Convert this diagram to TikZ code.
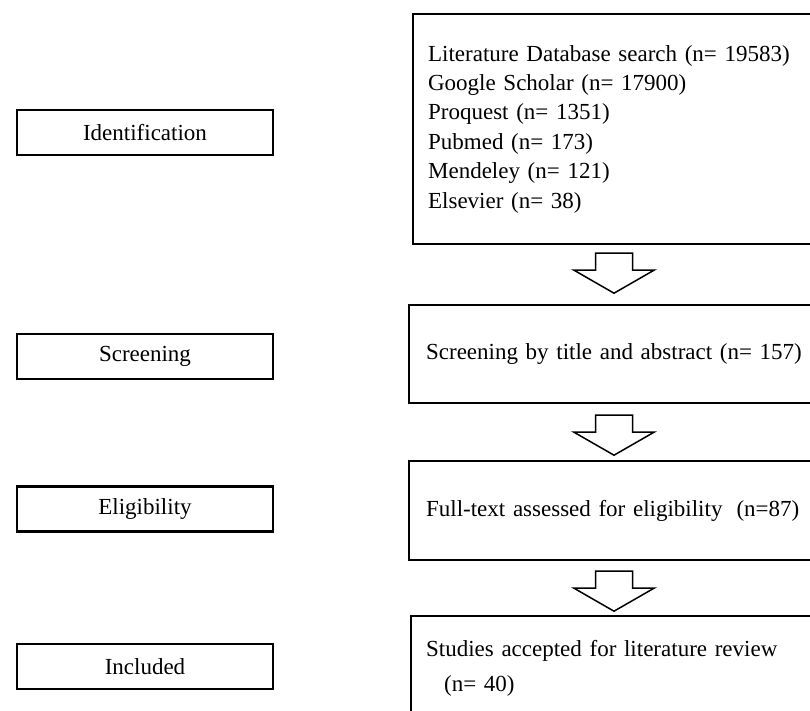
\documentclass[tikz,border=0pt]{standalone}
\usepackage{fontspec}
\setmainfont{Liberation Serif}
\usepackage{tikz}
\usetikzlibrary{calc}

\tikzset{
  stagebox/.style={draw, line width=2.4pt, minimum width=256pt, minimum height=45pt, inner sep=0pt},
  textbox/.style={draw, line width=2.2pt, anchor=north west, text width=400pt, align=left, inner xsep=15pt, inner ysep=0pt},
  arrowline/.style={draw, line width=1.5pt, line join=miter}
}
\newcommand{\hollowarrow}[1]{\draw[arrowline] (#1) -- ++(-18.5,0) -- ++(0,17) -- ++(-21.5,0) -- ++(40,23) -- ++(40,-23) -- ++(-21.5,0) -- ++(0,-17) -- cycle;}

\begin{document}
\begin{tikzpicture}[x=1pt, y=-1pt, font=\fontsize{23}{29.4}\selectfont]
\clip (0,0) rectangle (810,711);
\fill[white] (0,0) rectangle (810,711);
% stages on the left
\node[stagebox] (stageid) at (145,132.5) {Identification};
\node[stagebox] (stagescr) at (145,356.5) {Screening};
\node[stagebox] (stageelig) at (145,509) {Eligibility};
\node[stagebox] (stageinc) at (145,666.5) {Included};
% boxes on the right
\node[textbox, minimum height=230pt] (boxid) at (412,13) {Literature Database search (n= 19583)\\
Google Scholar (n= 17900)\\
Proquest (n= 1351)\\
Pubmed (n= 173)\\
Mendeley (n= 121)\\
Elsevier (n= 38)};
\node[textbox, inner xsep=17pt, minimum height=98pt] (boxscr) at (408,304) {Screening by title and abstract (n= 157)};
\node[textbox, inner xsep=17pt, minimum height=99pt] (boxelig) at (408,460) {Full-text assessed for eligibility\hspace{14pt}(n=87)};
\node[textbox, minimum height=104pt] (boxinc) at (410,615) {Studies accepted for literature review\\[6pt]
\hspace*{18pt}(n= 40)};
% arrows
\coordinate (ax) at (614,0);
\coordinate (a1) at ($(boxid.south -| ax)+(0,8)$);
\coordinate (a2) at ($(boxscr.south -| ax)+(0,11)$);
\coordinate (a3) at ($(boxelig.south -| ax)+(0,10)$);
\hollowarrow{a1}
\hollowarrow{a2}
\hollowarrow{a3}
\end{tikzpicture}
\end{document}
